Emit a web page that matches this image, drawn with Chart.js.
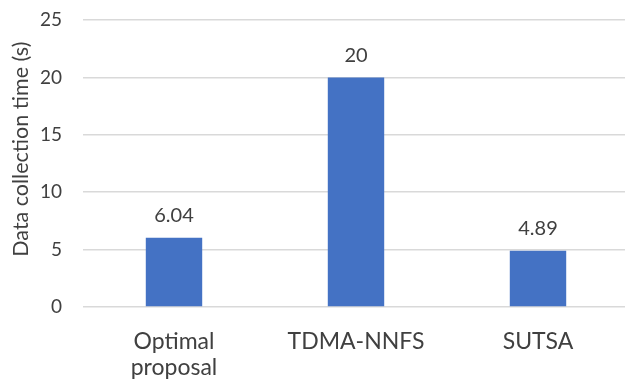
<!DOCTYPE html>
<html>
<head>
<meta charset="utf-8">
<script src="https://cdn.jsdelivr.net/npm/chart.js@4/dist/chart.umd.min.js"></script>
<style>
  html, body { margin: 0; padding: 0; background: #fff; overflow: hidden; }
  #wrap { width: 630px; height: 390px; }
</style>
</head>
<body>
<div id="wrap"><canvas id="c" width="630" height="390"></canvas></div>
<script>
// Data collection time per scheme
const categories = [["Optimal", "proposal"], "TDMA-NNFS", "SUTSA"];
const collectionTime = [6.04, 20, 4.89];
const yTicks = [0, 5, 10, 15, 20, 25];
const yTitle = "Data collection time (s)";

const textColor = "#404040";
const fontFamily = "Lato, 'Open Sans', sans-serif";

// Writes each bar's value just above it, and the rotated y-axis title
const annotations = {
  id: "annotations",
  afterDatasetsDraw(chart) {
    const ctx = chart.ctx;
    const meta = chart.getDatasetMeta(0);
    ctx.save();
    ctx.fillStyle = textColor;
    ctx.font = "20px " + fontFamily;
    ctx.textAlign = "center";
    ctx.textBaseline = "middle";
    meta.data.forEach((bar, i) => {
      ctx.fillText(String(collectionTime[i]), bar.x, bar.y - 22);
    });
    const area = chart.chartArea;
    ctx.translate(21, area.top + (area.bottom - area.top) * 0.45);
    ctx.rotate(-Math.PI / 2);
    ctx.font = "21.5px " + fontFamily;
    ctx.fillText(yTitle, 0, 0);
    ctx.restore();
  }
};

new Chart(document.getElementById("c"), {
  type: "bar",
  data: {
    labels: categories,
    datasets: [{
      data: collectionTime,
      backgroundColor: "#4472C4",
      categoryPercentage: 1,
      barPercentage: 0.31
    }]
  },
  options: {
    responsive: false,
    animation: false,
    layout: { padding: { top: 20, right: 1, left: 0, bottom: 0 } },
    plugins: { legend: { display: false }, tooltip: { enabled: false } },
    scales: {
      x: {
        grid: { display: false, drawTicks: false },
        border: { display: false },
        ticks: {
          color: textColor,
          padding: 22,
          maxRotation: 0,
          font: { family: fontFamily, size: 23, lineHeight: 1.12 }
        },
        afterFit(scale) { scale.height = 83; }
      },
      y: {
        min: 0,
        max: 25,
        afterBuildTicks(scale) { scale.ticks = yTicks.map(v => ({ value: v })); },
        grid: { color: "#D9D9D9", lineWidth: 1.5, drawTicks: false },
        border: { display: false },
        ticks: {
          color: textColor,
          padding: 21,
          font: { family: fontFamily, size: 19 }
        },
        afterFit(scale) {
          scale.width = 83;
          scale.paddingTop = 0;
          scale.paddingBottom = 0;
        }
      }
    }
  },
  plugins: [annotations]
});
</script>
</body>
</html>
